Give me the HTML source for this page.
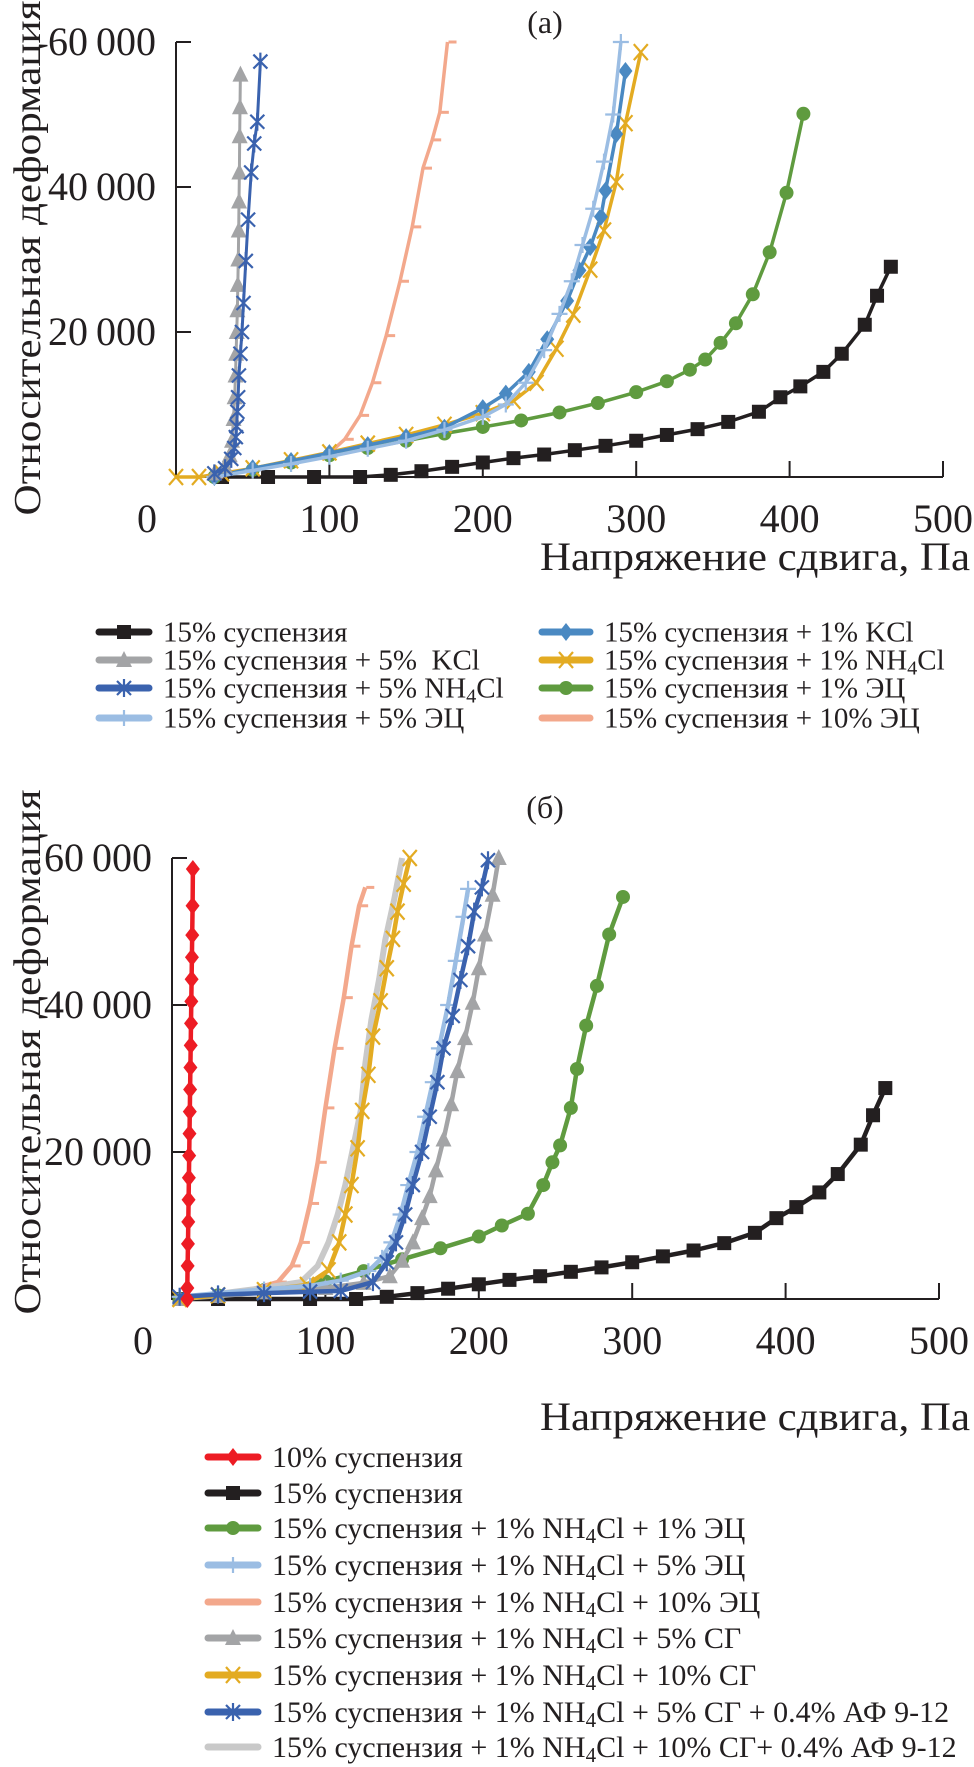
<!DOCTYPE html>
<html><head><meta charset="utf-8"><style>
html,body{margin:0;padding:0;background:#fff;}
svg{display:block;font-family:"Liberation Serif","DejaVu Serif",serif;}
</style></head><body>
<svg id="root" width="974" height="1767" viewBox="0 0 974 1767" xmlns="http://www.w3.org/2000/svg">
<text x="545" y="33" font-size="32" text-anchor="middle" fill="#231f20">(a)</text>
<text x="545" y="818" font-size="32" text-anchor="middle" fill="#231f20">(б)</text>
<text transform="translate(40,258) rotate(-90)" font-size="38" text-anchor="middle" textLength="515" lengthAdjust="spacingAndGlyphs" fill="#231f20">Относительная деформация</text>
<text transform="translate(40,1052) rotate(-90)" font-size="38" text-anchor="middle" textLength="525" lengthAdjust="spacingAndGlyphs" fill="#231f20">Относительная деформация</text>
<text x="970" y="570" font-size="40" text-anchor="end" textLength="430" lengthAdjust="spacingAndGlyphs" fill="#231f20">Напряжение сдвига, Па</text>
<text x="970" y="1430" font-size="40" text-anchor="end" textLength="430" lengthAdjust="spacingAndGlyphs" fill="#231f20">Напряжение сдвига, Па</text>
<g id="ga"></g>
<g id="gb"></g>
<g id="la"></g>
<g id="lb"></g>
</svg>
<script>
const xTicks = [0,100,200,300,400,500];
const xTickLabels = ["0","100","200","300","400","500"];
const yTicks = [20000,40000,60000];
const yTickLabels = ["20\u2009000","40\u2009000","60\u2009000"];

// Chart (a)
const a_black_x = [30,60,90,120,140,160,180,200,220,240,260,280,300,320,340,360,380,394,407,422,434,449,457,466];
const a_black_y = [0,0,0,0,300,800,1400,2000,2600,3100,3700,4300,5000,5800,6600,7600,9000,11000,12500,14500,17000,21000,25000,29000];
const a_gray_x = [25,32,35,36.5,37.5,38.2,38.8,39.2,39.6,40,40.3,40.6,40.9,41.1,41.3,41.5,41.7,42];
const a_gray_y = [500,1500,3000,5000,8000,11000,14000,17000,20000,23000,26500,30000,34000,38000,42000,47000,51000,55500];
const a_blue_x = [25,32,36,38,39,39.5,40,40.5,41,42,43,44,45.5,47,49,51,53,55];
const a_blue_y = [500,1200,2500,4000,5500,7000,9000,11000,14000,17000,20000,24000,29800,35500,42000,46000,49000,57300];
const a_lblue_x = [25,50,75,100,125,150,175,200,215,228,240,250,258,265,272,279,285,290];
const a_lblue_y = [0,900,1800,2800,3900,5000,6500,8300,10000,13000,17500,22500,27000,32000,37000,43500,50000,60000];
const a_steel_x = [25,50,75,100,125,150,175,200,215,230,242,255,263,270,277,280,287,293];
const a_steel_y = [0,1200,2200,3300,4400,5500,6800,9500,11500,14500,19000,24300,28500,31700,35900,39500,47300,56000];
const a_yellow_x = [0,15,30,50,75,100,125,150,175,200,220,235,248,259,270,279,287,293,303];
const a_yellow_y = [0,0,500,1200,2300,3400,4600,5800,7200,8800,10500,13000,17700,22400,28600,34000,40700,48800,58600];
const a_green_x = [25,50,75,100,125,150,175,200,225,250,275,300,320,335,345,355,365,376,387,398,409];
const a_green_y = [0,1000,2000,3000,4000,5000,6000,6900,7800,8900,10200,11700,13200,14800,16200,18500,21200,25200,31000,39200,50100];
const a_salmon_x = [25,50,75,100,110,120,128,137,146,154,161,167,172,177];
const a_salmon_y = [0,1000,2000,3300,5200,8500,13000,19500,27000,34500,42600,46500,50300,60000];

// Chart (b)
const b_red_x = [10,10,10.2,10.4,10.6,10.8,11,11.2,11.4,11.6,11.8,12,12.2,12.4,12.6,12.8,13,13.2,13.4,13.6];
const b_red_y = [0,1500,4500,7500,10500,13500,16500,19500,22500,25500,28500,31500,34500,37500,40500,43500,46500,49500,53500,58500];
const b_black_x = [5,30,60,90,120,140,160,180,200,220,240,260,280,300,320,340,360,380,394,407,422,434,449,457,465];
const b_black_y = [0,0,0,0,0,300,800,1400,2000,2600,3100,3700,4300,5000,5800,6600,7600,9000,11000,12500,14500,17000,21000,25000,28700];
const b_green_x = [5,30,60,100,125,150,175,200,215,232,242,248,253,260,264,270,277,285,294];
const b_green_y = [0,500,1200,2400,3800,5400,6900,8500,10000,11600,15500,18600,20900,26000,31300,37200,42600,49600,54700];
const b_lblue_x = [5,30,60,90,110,128,137,143,149,154,160,165,170,174,180,185,190,193];
const b_lblue_y = [300,800,1300,1800,2500,3800,5600,7700,11500,15500,20000,24800,29500,34100,40000,46000,52000,55800];
const b_salmon_x = [5,30,50,69,78,84,90,95,100,106,112,117,122,126];
const b_salmon_y = [0,600,1200,2300,4500,7700,13000,18600,26000,34100,41000,48000,53500,56000];
const b_gray_x = [5,30,60,100,125,142,150,157,163,168,172,177,182,186,191,196,200,204,209,213];
const b_gray_y = [0,400,900,1500,2200,3100,5200,7700,11000,14000,17500,21700,26500,31000,35500,40300,45000,49600,55000,60000];
const b_yellow_x = [5,30,60,88,102,109,113,117,121,124,128,131,136,140,144,147,151,155];
const b_yellow_y = [0,500,1200,1900,3900,7700,11500,15500,20500,25600,30500,35700,40500,45000,49000,52700,56500,60000];
const b_blue_x = [5,30,60,90,110,131,140,146,152,157,163,168,173,177,183,188,193,197,202,206];
const b_blue_y = [300,600,800,1000,1100,2300,5000,7700,11500,15500,20000,24800,29500,34100,38500,43400,48000,52700,56000,59700];
const b_lgray_x = [5,30,60,84,95,102,108,113,118,123,126,130,135,139,145,150];
const b_lgray_y = [0,700,1500,2300,4500,7700,11500,15500,20500,25600,32000,38000,43500,48800,54500,60000];

const NS = "http://www.w3.org/2000/svg";
function mk(tag, attrs, parent){const e=document.createElementNS(NS,tag);for(const k in attrs)e.setAttribute(k,attrs[k]);parent.appendChild(e);return e;}

const C = {black:"#231f20",gray:"#a3a4a6",blue:"#3a62ae",lblue:"#9bbde3",steel:"#4a89c2",yellow:"#e3ab22",green:"#5f9b3f",salmon:"#f3a88c",red:"#ed1c24",lgray:"#c9c9c9"};

function marker(g, type, x, y, col){
  let e;
  if(type==="square"){e=mk("rect",{x:x-7,y:y-7,width:14,height:14,fill:col},g);}
  else if(type==="triangle"){e=mk("path",{d:`M${x},${y-9}L${x+8},${y+7}L${x-8},${y+7}Z`,fill:col},g);}
  else if(type==="diamond"){e=mk("path",{d:`M${x},${y-9}L${x+7},${y}L${x},${y+9}L${x-7},${y}Z`,fill:col},g);}
  else if(type==="circle"){e=mk("circle",{cx:x,cy:y,r:7,fill:col},g);}
  else if(type==="star"){e=mk("path",{d:`M${x-7},${y-7}L${x+7},${y+7}M${x-7},${y+7}L${x+7},${y-7}M${x},${y-9}L${x},${y+9}`,stroke:col,"stroke-width":2.2,fill:"none"},g);}
  else if(type==="x"){e=mk("path",{d:`M${x-7},${y-8}L${x+7},${y+8}M${x-7},${y+8}L${x+7},${y-8}`,stroke:col,"stroke-width":2.2,fill:"none"},g);}
  else if(type==="plus"){e=mk("path",{d:`M${x-8},${y}L${x+8},${y}M${x},${y-8}L${x},${y+8}`,stroke:col,"stroke-width":2.2,fill:"none"},g);}
  else if(type==="dash"){e=mk("path",{d:`M${x+1},${y}L${x+9},${y}`,stroke:col,"stroke-width":3,fill:"none"},g);}
  else return;
  
  
}

function drawAxes(g, x0, y0, sx, sy){
  const ax=mk("path",{d:`M${x0},${y0-60000*sy}L${x0},${y0}L${x0+500*sx},${y0}`,stroke:"#231f20","stroke-width":2,fill:"none"},g);
  
  
  xTicks.forEach((v,i)=>{
    const px=x0+v*sx;
    if(v>0){const t=mk("line",{x1:px,y1:y0,x2:px,y2:y0-16,stroke:"#231f20","stroke-width":2},g);
      
      }
    const lx = v===0 ? px-29 : px;
    const tx=mk("text",{x:lx,y:y0+55,"font-size":40,"text-anchor":"middle",fill:"#231f20"},g);
    tx.textContent=xTickLabels[i];
    
    
  });
  yTicks.forEach((v,i)=>{
    const py=y0-v*sy;
    const t=mk("line",{x1:x0,y1:py,x2:x0+15,y2:py,stroke:"#231f20","stroke-width":2},g);
    
    
    const tx=mk("text",{x:x0-20,y:py+13,"font-size":40,"text-anchor":"end",fill:"#231f20"},g);
    tx.textContent=yTickLabels[i];
    
    
  });
}

function series(g, xs, ys, x0, y0, sx, sy, col, mtype, name, width){
  const sg=mk("g",{},g);
  
  
  let d="";
  xs.forEach((v,i)=>{d+=(i?"L":"M")+(x0+v*sx).toFixed(1)+","+(y0-ys[i]*sy).toFixed(1);});
  const p=mk("path",{d:d,stroke:col,"stroke-width":width||3,fill:"none","stroke-linejoin":"round"},sg);
  
  
  xs.forEach((v,i)=>marker(sg,mtype,x0+v*sx,y0-ys[i]*sy,col));
}

const ga=document.getElementById("ga");
const AX0=176, AY0=477, SX=1.534, ASY=145/20000;
drawAxes(ga,AX0,AY0,SX,ASY);
series(ga,a_black_x,a_black_y,AX0,AY0,SX,ASY,C.black,"square","series-15-suspension",3.5);
series(ga,a_green_x,a_green_y,AX0,AY0,SX,ASY,C.green,"circle","series-1-ec",3.5);
series(ga,a_salmon_x,a_salmon_y,AX0,AY0,SX,ASY,C.salmon,"dash","series-10-ec",3.5);
series(ga,a_yellow_x,a_yellow_y,AX0,AY0,SX,ASY,C.yellow,"x","series-1-nh4cl",3.5);
series(ga,a_steel_x,a_steel_y,AX0,AY0,SX,ASY,C.steel,"diamond","series-1-kcl",3.5);
series(ga,a_lblue_x,a_lblue_y,AX0,AY0,SX,ASY,C.lblue,"plus","series-5-ec",3.5);
series(ga,a_gray_x,a_gray_y,AX0,AY0,SX,ASY,C.gray,"triangle","series-5-kcl",3);
series(ga,a_blue_x,a_blue_y,AX0,AY0,SX,ASY,C.blue,"star","series-5-nh4cl",3);

const gb=document.getElementById("gb");
const BX0=172, BY0=1299, BSY=147/20000;
drawAxes(gb,BX0,BY0,SX,BSY);
series(gb,b_black_x,b_black_y,BX0,BY0,SX,BSY,C.black,"square","series-15-suspension",4.5);
series(gb,b_green_x,b_green_y,BX0,BY0,SX,BSY,C.green,"circle","series-nh4cl-1-ec",4.5);
series(gb,b_salmon_x,b_salmon_y,BX0,BY0,SX,BSY,C.salmon,"dash","series-nh4cl-10-ec",4.5);
series(gb,b_gray_x,b_gray_y,BX0,BY0,SX,BSY,C.gray,"triangle","series-nh4cl-5-sg",4.5);
series(gb,b_lgray_x,b_lgray_y,BX0,BY0,SX,BSY,C.lgray,"none","series-nh4cl-10-sg-af",6);
series(gb,b_yellow_x,b_yellow_y,BX0,BY0,SX,BSY,C.yellow,"x","series-nh4cl-10-sg",4.5);
series(gb,b_lblue_x,b_lblue_y,BX0,BY0,SX,BSY,C.lblue,"plus","series-nh4cl-5-ec",4.5);
series(gb,b_blue_x,b_blue_y,BX0,BY0,SX,BSY,C.blue,"star","series-nh4cl-5-sg-af",4.5);
series(gb,b_red_x,b_red_y,BX0,BY0,SX,BSY,C.red,"diamond","series-10-suspension",4.5);

function legendItem(g, x, y, col, mtype, html, fs, lineLen){
  const ig=mk("g",{},g);
  
  
  mk("line",{x1:x,y1:y,x2:x+lineLen,y2:y,stroke:col,"stroke-width":7,"stroke-linecap":"round"},ig);
  marker(ig,mtype,x+lineLen/2,y,col);
  const t=mk("text",{x:x+lineLen+14,y:y+fs*0.33,"font-size":fs,fill:"#231f20"},ig);
  t.innerHTML=html;
}
const NH='NH<tspan font-size="70%" dy="5">4</tspan><tspan dy="-5">Cl</tspan>';
const la=document.getElementById("la");
const laRows=[632,660,688,718];
legendItem(la,99,laRows[0],C.black,"square","15% суспензия",29,50);
legendItem(la,99,laRows[1],C.gray,"triangle","15% суспензия + 5%&#160; KCl",29,50);
legendItem(la,99,laRows[2],C.blue,"star","15% суспензия + 5% "+NH,29,50);
legendItem(la,99,laRows[3],C.lblue,"plus","15% суспензия + 5% ЭЦ",29,50);
legendItem(la,542,laRows[0],C.steel,"diamond","15% суспензия + 1% KCl",29,48);
legendItem(la,542,laRows[1],C.yellow,"x","15% суспензия + 1% "+NH,29,48);
legendItem(la,542,laRows[2],C.green,"circle","15% суспензия + 1% ЭЦ",29,48);
legendItem(la,542,laRows[3],C.salmon,"none","15% суспензия + 10% ЭЦ",29,48);

const lb=document.getElementById("lb");
const lbRows=[1457,1493,1528,1565,1602,1638,1675,1712,1747];
const P="15% суспензия + 1% "+NH;
legendItem(lb,208,lbRows[0],C.red,"diamond","10% суспензия",30,50);
legendItem(lb,208,lbRows[1],C.black,"square","15% суспензия",30,50);
legendItem(lb,208,lbRows[2],C.green,"circle",P+" + 1% ЭЦ",30,50);
legendItem(lb,208,lbRows[3],C.lblue,"plus",P+" + 5% ЭЦ",30,50);
legendItem(lb,208,lbRows[4],C.salmon,"none",P+" + 10% ЭЦ",30,50);
legendItem(lb,208,lbRows[5],C.gray,"triangle",P+" + 5% СГ",30,50);
legendItem(lb,208,lbRows[6],C.yellow,"x",P+" + 10% СГ",30,50);
legendItem(lb,208,lbRows[7],C.blue,"star",P+" + 5% СГ + 0.4% АФ 9-12",30,50);
legendItem(lb,208,lbRows[8],C.lgray,"none",P+" + 10% СГ+ 0.4% АФ 9-12",30,50);
</script>
</body></html>
